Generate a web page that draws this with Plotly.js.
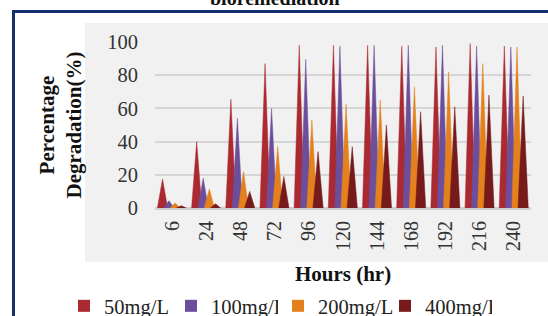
<!DOCTYPE html>
<html>
<head>
<meta charset="utf-8">
<script src="https://cdn.plot.ly/plotly-3.0.1.min.js"></script>
<style>
  html, body { margin: 0; padding: 0; background: #ffffff; }
  #chart { width: 548px; height: 316px; }
</style>
</head>
<body>
<div id="chart"></div>
<script>
// ---- Data ----
const hours = ['6', '24', '48', '72', '96', '120', '144', '168', '192', '216', '240'];
const seriesNames = ['50mg/L', '100mg/L', '200mg/L', '400mg/L'];
const deg50  = [17.5, 40, 65.5, 87, 98, 98, 98, 97.5, 97, 99, 97.5];
const deg100 = [4.4, 18, 54, 60, 89.5, 97.5, 98, 98, 98, 97.5, 97];
const deg200 = [3, 11.5, 22, 37, 53, 62.5, 65, 73, 82, 87, 97];
const deg400 = [1.4, 2.5, 10, 19, 34, 37, 50, 58, 61, 68, 67.5];
const yTicks = [0, 20, 40, 60, 80, 100];

// ---- Styling ----
const colors = ['#ab2a31', '#6c4f9c', '#e5811c', '#761a1c'];
const offsets = [-0.28, -0.09, 0.09, 0.27];
const halfWidth = 0.15;
const serif = 'Liberation Serif, Times New Roman, serif';
const legendIds = ['legend', 'legend', 'legend2', 'legend2'];

const allSeries = [deg50, deg100, deg200, deg400];
const traces = [];
allSeries.forEach((vals, s) => {
  const xs = [], ys = [];
  vals.forEach((v, i) => {
    const c = i + offsets[s];
    xs.push(c - halfWidth, c, c + halfWidth, null);
    ys.push(0, v, 0, null);
  });
  traces.push({
    type: 'scatter', mode: 'lines', x: xs, y: ys,
    fill: 'toself', fillcolor: colors[s],
    line: { color: colors[s], width: 0.5 },
    name: seriesNames[s], legendgroup: seriesNames[s],
    showlegend: false, hoverinfo: 'skip'
  });
});
// legend entries (square swatches like the reference)
allSeries.forEach((vals, s) => {
  traces.push({
    type: 'bar', x: [null], y: [null],
    marker: { color: colors[s] },
    name: seriesNames[s], legendgroup: seriesNames[s],
    legend: legendIds[s],
    showlegend: true, hoverinfo: 'skip'
  });
});

// pixel -> paper helpers (plot area: x 155..531, y 42..208)
const L = 155, R = 17, T = 42, B = 108, W = 548, H = 316;
const pw = W - L - R, ph = H - T - B;
const px = p => (p - L) / pw;
const py = p => (H - B - p) / ph;

const legendStyle = (xPix) => ({
  orientation: 'h',
  xref: 'container', yref: 'container',
  x: xPix / W, xanchor: 'left',
  y: (H - 306) / H, yanchor: 'middle',
  font: { family: serif, size: 20.5, color: '#222222' },
  itemwidth: 30,
  entrywidth: 62, entrywidthmode: 'pixels',
  bgcolor: 'rgba(0,0,0,0)',
  traceorder: 'normal'
});

const layout = {
  width: W, height: H,
  margin: { l: L, r: R, t: T, b: B, pad: 0 },
  paper_bgcolor: '#ffffff',
  plot_bgcolor: 'rgba(0,0,0,0)',
  showlegend: true,
  font: { family: serif, color: '#333333', size: 20 },
  xaxis: {
    type: 'linear',
    range: [-0.5, hours.length - 0.5],
    tickvals: hours.map((h, i) => i),
    ticktext: hours,
    tickangle: -90,
    ticks: '',
    ticklabelstandoff: 8,
    showgrid: false, zeroline: false, showline: false,
    tickfont: { family: serif, size: 20, color: '#333333' },
    automargin: false,
    title: { text: '<b>Hours (hr)</b>', font: { family: serif, size: 21, color: '#111111' }, standoff: 23 }
  },
  yaxis: {
    range: [0, 100],
    tickvals: yTicks,
    ticks: '',
    ticklabelstandoff: 16,
    showgrid: true, gridcolor: '#d6d6d6', gridwidth: 2,
    zeroline: true, zerolinecolor: '#cfcfcf', zerolinewidth: 3,
    showline: false,
    tickfont: { family: serif, size: 20.5, color: '#333333' },
    automargin: false,
    title: { text: '<b>Percentage<br>Degradation(%)</b>', font: { family: serif, size: 21, color: '#111111' }, standoff: 19 }
  },
  legend: legendStyle(64),
  legend2: legendStyle(64 + 214),
  shapes: [
    { type: 'rect', xref: 'paper', yref: 'paper', layer: 'below',
      x0: px(85), x1: px(560), y0: py(262), y1: py(23),
      fillcolor: '#f1f1f1', line: { width: 0 } },
    { type: 'rect', xref: 'paper', yref: 'paper', layer: 'above',
      x0: px(13.5), x1: px(620), y0: py(360), y1: py(11.5),
      fillcolor: 'rgba(0,0,0,0)', line: { color: '#15306e', width: 3 } }
  ],
  annotations: [
    { text: '<b>bioremediation</b>', xref: 'paper', yref: 'paper',
      x: px(275), y: py(-2), xanchor: 'center', yanchor: 'middle',
      showarrow: false, font: { family: serif, size: 20, color: '#111111' } }
  ]
};

Plotly.newPlot('chart', traces, layout, { displayModeBar: false, staticPlot: true });
</script>
</body>
</html>
